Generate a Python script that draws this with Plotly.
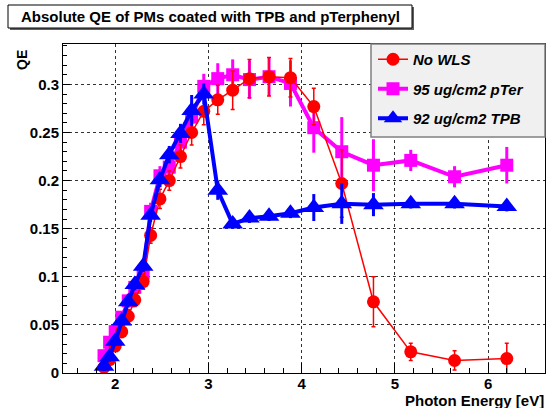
import plotly.graph_objects as go

# Photon energies [eV]
energy = [1.88, 1.94, 2.00, 2.07, 2.14, 2.21, 2.30, 2.38, 2.48, 2.58, 2.70, 2.82,
          2.95, 3.10, 3.26, 3.44, 3.65, 3.88, 4.13, 4.43, 4.77, 5.17, 5.64, 6.20]

qe_nowls = [0.006, 0.014, 0.028, 0.043, 0.059, 0.076, 0.095, 0.143, 0.181, 0.200, 0.225, 0.250,
            0.272, 0.284, 0.294, 0.306, 0.308, 0.307, 0.277, 0.197, 0.074, 0.022, 0.013, 0.015]
err_nowls = [0.003, 0.004, 0.005, 0.006, 0.007, 0.007, 0.008, 0.008, 0.010, 0.010, 0.012, 0.013,
             0.014, 0.015, 0.020, 0.020, 0.020, 0.020, 0.019, 0.035, 0.026, 0.009, 0.010, 0.016]

qe_pter = [0.018, 0.032, 0.043, 0.058, 0.075, 0.089, 0.104, 0.168, 0.205, 0.214, 0.240, 0.266,
           0.298, 0.306, 0.310, 0.305, 0.308, 0.301, 0.255, 0.230, 0.216, 0.221, 0.204, 0.216]
err_pter = [0.005, 0.005, 0.006, 0.006, 0.007, 0.007, 0.008, 0.009, 0.010, 0.010, 0.011, 0.012,
            0.013, 0.016, 0.016, 0.020, 0.020, 0.024, 0.026, 0.036, 0.027, 0.011, 0.011, 0.019]

qe_tpb = [0.007, 0.017, 0.033, 0.054, 0.074, 0.092, 0.111, 0.164, 0.201, 0.227, 0.249, 0.273,
          0.290, 0.190, 0.155, 0.161, 0.163, 0.166, 0.172, 0.176, 0.175, 0.176, 0.176, 0.173]
err_tpb = [0.005, 0.005, 0.005, 0.005, 0.005, 0.006, 0.006, 0.007, 0.008, 0.009, 0.010, 0.016,
           0.011, 0.010, 0.005, 0.005, 0.005, 0.005, 0.014, 0.021, 0.012, 0.005, 0.005, 0.005]

names = ["No WLS", "95 ug/cm2 pTer", "92 ug/cm2 TPB"]
title_text = "Absolute QE of PMs coated with TPB and pTerphenyl"

W, H = 547, 408
L, R, T, B = 63, 2, 44, 35
PW, PH = W - L - R, H - T - B


def px(x):
    return (x - L) / PW


def py(y):
    return (H - B - y) / PH


FONT = "Liberation Sans"

fig = go.Figure()

fig.add_trace(go.Scatter(
    x=energy, y=qe_pter, name=names[1], mode="lines+markers", legendrank=2,
    legendgroup="b",
    line=dict(color="#ff00ff", width=4),
    marker=dict(symbol="square", size=13, color="#ff00ff"),
    error_y=dict(type="data", array=err_pter, color="#ff00ff", thickness=3, width=0),
))
fig.add_trace(go.Scatter(
    x=energy, y=qe_nowls, name=names[0], mode="lines+markers", legendrank=1,
    legendgroup="a",
    line=dict(color="#ff0000", width=1.5),
    marker=dict(symbol="circle", size=13, color="#ff0000"),
    error_y=dict(type="data", array=err_nowls, color="#ff0000", thickness=1.5, width=2),
))
fig.add_trace(go.Scatter(
    x=energy, y=qe_tpb, name=names[2], mode="lines+markers", legendrank=3,
    legendgroup="c",
    line=dict(color="#0000ff", width=4),
    marker=dict(symbol="triangle-up", size=18, color="#0000ff"),
    error_y=dict(type="data", array=err_tpb, color="#0000ff", thickness=3, width=0),
))

shapes = [
    # title shadow + box
    dict(type="rect", xref="paper", yref="paper", x0=px(10), x1=px(414), y0=py(30), y1=py(7),
         fillcolor="#606060", line=dict(width=0), layer="above"),
    dict(type="rect", xref="paper", yref="paper", x0=px(8), x1=px(412), y0=py(28), y1=py(5),
         fillcolor="white", line=dict(color="black", width=1), layer="above"),
    # legend box
    dict(type="rect", xref="paper", yref="paper", x0=px(371), x1=px(545), y0=py(137), y1=py(44),
         fillcolor="#f0f0f0", line=dict(color="#808080", width=1.5), layer="above"),
]

annotations = [
    dict(text="<b>" + title_text + "</b>", xref="paper", yref="paper", x=px(210), y=py(17),
         xanchor="center", yanchor="middle", showarrow=False,
         font=dict(family=FONT, size=15, color="black")),
    dict(text="<b>Photon Energy [eV]</b>", xref="paper", yref="paper", x=px(546), y=py(401),
         xanchor="right", yanchor="middle", showarrow=False,
         font=dict(family=FONT, size=15, color="black")),
    dict(text="<b>QE</b>", xref="paper", yref="paper", x=px(22), y=py(60), textangle=-90,
         xanchor="center", yanchor="middle", showarrow=False,
         font=dict(family=FONT, size=14, color="black")),
]

fig.update_layout(
    width=W, height=H,
    margin=dict(l=L, r=R, t=T, b=B),
    paper_bgcolor="white", plot_bgcolor="white",
    showlegend=True,
    legend=dict(x=px(373), y=py(43), xanchor="left", yanchor="top",
                bgcolor="rgba(0,0,0,0)", borderwidth=0, tracegroupgap=7,
                font=dict(family=FONT, size=15, color="black", weight="bold", style="italic")),
    shapes=shapes,
    annotations=annotations,
)

fig.update_xaxes(
    range=[1.44, 6.61], dtick=1, tick0=0,
    showline=True, linecolor="black", linewidth=1, mirror=True,
    ticks="inside", ticklen=10, tickcolor="black",
    minor=dict(dtick=0.2, ticks="inside", ticklen=5, tickcolor="black", showgrid=False),
    showgrid=True, gridcolor="#333", griddash="dot", gridwidth=1,
    zeroline=False, ticklabelstandoff=-3,
    tickfont=dict(family=FONT, size=15, color="black", weight="bold"),
)
fig.update_yaxes(
    range=[0, 0.342], dtick=0.05, tick0=0,
    showline=True, linecolor="black", linewidth=1, mirror=True,
    ticks="inside", ticklen=7, tickcolor="black",
    minor=dict(dtick=0.01, ticks="inside", ticklen=4, tickcolor="black", showgrid=False),
    showgrid=True, gridcolor="#333", griddash="dot", gridwidth=1,
    zeroline=False,
    tickfont=dict(family=FONT, size=15, color="black", weight="bold"),
    tickformat="~g",
)

fig.write_html("out.html", config={"displayModeBar": False},
               post_script="document.body.style.margin='0px';document.body.style.overflow='hidden';")
